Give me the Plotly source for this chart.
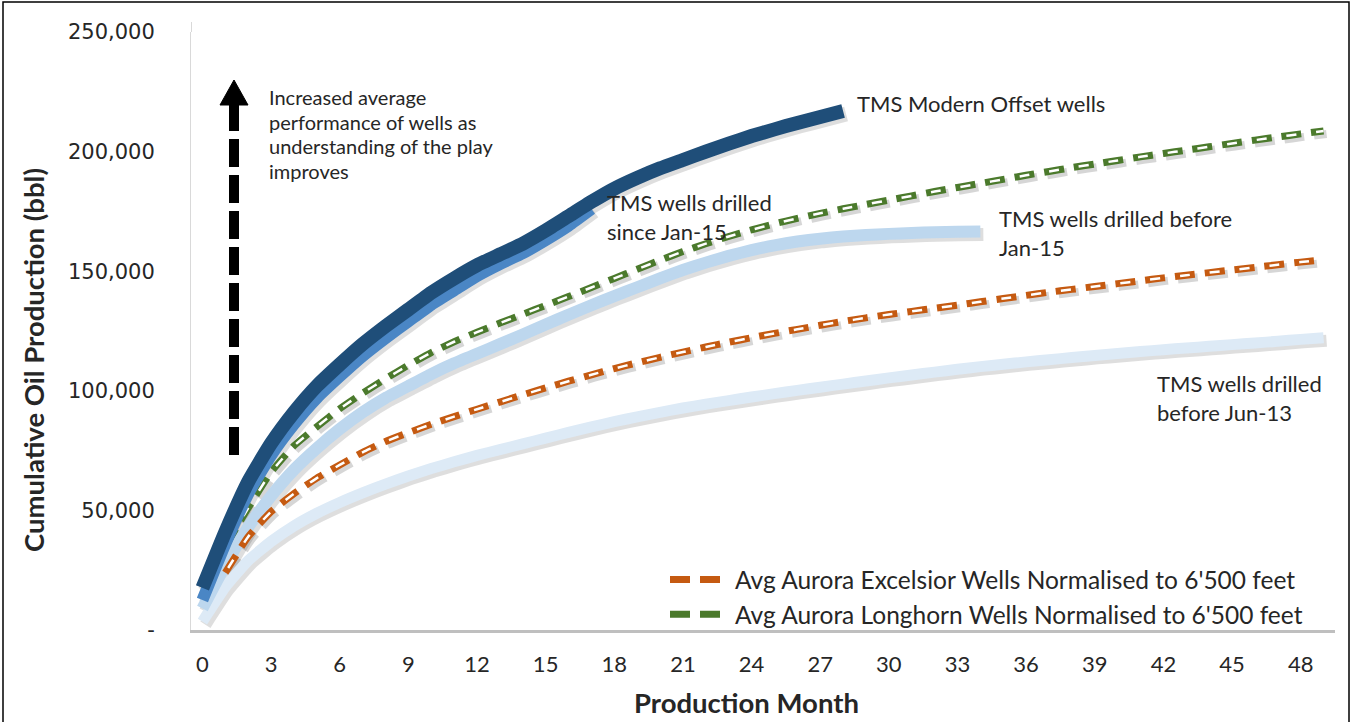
import plotly.graph_objects as go

# ---------------- data ----------------
months = list(range(0, 50))
x_ticks = list(range(0, 49, 3))
y_ticks = [0, 50000, 100000, 150000, 200000, 250000]
y_tick_text = ["-", "50,000", "100,000", "150,000", "200,000", "250,000"]

# TMS Modern Offset wells (months 0..28)
modern_offset = [17600, 41000, 62000, 78000, 91000, 102000, 111000, 119500, 127000, 134000,
                 141000, 147000, 152500, 157000, 161500, 167000, 173000, 179000, 184500, 189000,
                 193000, 196500, 200000, 203300, 206500, 209300, 212000, 214500, 217000]
# TMS wells drilled since Jan-15 (months 0..17)
since_jan15 = [12500, 36000, 57000, 73000, 86000, 97000, 106000, 114500, 122000, 129000,
               136000, 142000, 148000, 153000, 157500, 163000, 169000, 176000]
# TMS wells drilled before Jan-15 (months 0..34)
before_jan15 = [9000, 27000, 43000, 56000, 67000, 76000, 84000, 91000, 97000, 102000,
                107000, 111500, 115500, 119500, 123500, 127700, 131800, 135800, 139600, 143300,
                147000, 150500, 153600, 156400, 158800, 160800, 162400, 163600, 164500, 165100,
                165600, 166000, 166300, 166500, 166600]
# TMS wells drilled before Jun-13 (months 0..49)
before_jun13 = [3500, 18000, 29000, 37000, 43500, 48800, 53300, 57300, 61000, 64400,
                67500, 70300, 73000, 75400, 77800, 80200, 82600, 84900, 87100, 89100,
                91000, 92800, 94400, 95900, 97400, 98800, 100200, 101500, 102800, 104100,
                105400, 106600, 107800, 109000, 110100, 111100, 112100, 113000, 113900, 114800,
                115600, 116400, 117200, 117900, 118600, 119300, 120000, 120700, 121500, 122200]
# Avg Aurora Excelsior (months 1..49)
excelsior = [24000, 39000, 49500, 57000, 63500, 69000, 74300, 78800, 82500, 86000,
             89200, 92300, 95300, 98300, 101200, 104000, 106700, 109300, 111700, 114000,
             116200, 118300, 120300, 122200, 124000, 125700, 127400, 129000, 130500, 131900,
             133200, 134500, 135800, 137200, 138600, 139900, 141200, 142400, 143600, 144800,
             146000, 147200, 148300, 149400, 150500, 151600, 152700, 153800, 154800]
# Avg Aurora Longhorn (months 1..49)
longhorn = [35000, 51000, 66000, 77000, 85000, 92500, 99000, 105000, 110700, 116000,
            120500, 124500, 128300, 132000, 135700, 139400, 143200, 147000, 150800, 154600,
            158200, 161500, 164500, 167300, 169800, 172100, 174200, 176100, 177900, 179700,
            181500, 183300, 185000, 186700, 188400, 190100, 191700, 193300, 194800, 196300,
            197800, 199200, 200600, 202000, 203400, 204800, 206100, 207400, 208600]

# ---------------- geometry / styling ----------------
W, H = 1352, 722
ML, MR, MT, MB = 191, 17, 32, 92
PW, PH = W - ML - MR, H - MT - MB
XR = [-0.5, 49.5]
YR = [0, 250000]
SH = 3  # shadow offset, px
dx = SH * (XR[1] - XR[0]) / PW
dy = SH * (YR[1] - YR[0]) / PH


def px2x(px):
    return XR[0] + (px - ML) / PW * (XR[1] - XR[0])


def py2y(py):
    return YR[0] + (MT + PH - py) / PH * (YR[1] - YR[0])


def fx(px):  # page px -> paper fraction (x)
    return (px - ML) / PW


def fy(py):  # page px -> paper fraction (y)
    return (MT + PH - py) / PH


TXT = "#262626"
FONT = "Lato"
SMOOTH = 0.45

solid_series = [
    ("TMS wells drilled before Jun-13", months[:len(before_jun13)], before_jun13, "#DDEAF6", 11),
    ("TMS wells drilled before Jan-15", months[:len(before_jan15)], before_jan15, "#BDD7EE", 12),
]
dashed_series = [
    ("Avg Aurora Excelsior Wells Normalised to 6'500 feet", months[1:1 + len(excelsior)], excelsior, "#C55A11"),
    ("Avg Aurora Longhorn Wells Normalised to 6'500 feet", months[1:1 + len(longhorn)], longhorn, "#4B7A2C"),
]
top_series = [
    ("TMS wells drilled since Jan-15", months[:len(since_jan15)], since_jan15, "#4A86C5", 12),
    ("TMS Modern Offset wells", months[:len(modern_offset)], modern_offset, "#1F4E79", 14),
]

OUTER_DASH = "20px,10px"
INNER_DASH = "0px,5px,10px,15px"

fig = go.Figure()

# soft shadows, drawn on hidden base axes whose range is shifted a few pixels
for name, xs, ys, col, w in solid_series + top_series:
    fig.add_trace(go.Scatter(x=xs, y=ys, mode="lines", xaxis="x", yaxis="y",
                             line=dict(color="rgba(0,0,0,0.13)", width=w + 1, shape="spline", smoothing=SMOOTH),
                             showlegend=False, hoverinfo="skip"))
for name, xs, ys, col in dashed_series:
    fig.add_trace(go.Scatter(x=xs, y=ys, mode="lines", xaxis="x", yaxis="y",
                             line=dict(color="rgba(0,0,0,0.16)", width=8, dash=OUTER_DASH,
                                       shape="spline", smoothing=SMOOTH),
                             showlegend=False, hoverinfo="skip"))

# main lines
for name, xs, ys, col, w in solid_series:
    fig.add_trace(go.Scatter(x=xs, y=ys, mode="lines", name=name, xaxis="x2", yaxis="y2",
                             line=dict(color=col, width=w, shape="spline", smoothing=SMOOTH),
                             showlegend=False))
for i, (name, xs, ys, col) in enumerate(dashed_series):
    fig.add_trace(go.Scatter(x=xs, y=ys, mode="lines", name=name, xaxis="x2", yaxis="y2",
                             line=dict(color=col, width=7, dash=OUTER_DASH, shape="spline", smoothing=SMOOTH),
                             showlegend=True, legendgroup=f"g{i}"))
    fig.add_trace(go.Scatter(x=xs, y=ys, mode="lines", name=name, xaxis="x2", yaxis="y2",
                             line=dict(color="white", width=2.5, dash=INNER_DASH, shape="spline", smoothing=SMOOTH),
                             showlegend=False, hoverinfo="skip"))
for name, xs, ys, col, w in top_series:
    fig.add_trace(go.Scatter(x=xs, y=ys, mode="lines", name=name, xaxis="x2", yaxis="y2",
                             line=dict(color=col, width=w, shape="spline", smoothing=SMOOTH),
                             showlegend=False))

# ---------------- annotations ----------------
ann = []


def label(lines, px, py_top_line, base_size, glyph_size):
    """Multi-line left-aligned label; first line centred near py_top_line (page px)."""
    text = "<br>".join(f"<span style='font-size:{glyph_size}px'>{t}</span>" for t in lines)
    ann.append(dict(text=text, x=px2x(px), y=py2y(py_top_line - base_size * 0.65 - 1), xref="x2", yref="y2",
                    xanchor="left", yanchor="top", showarrow=False, align="left",
                    font=dict(family=FONT, size=base_size, color=TXT)))


label(["Increased average", "performance of wells as", "understanding of the play", "improves"],
      267, 96, 19, 20)
label(["TMS Modern Offset wells"], 855, 104, 22.5, 22)
label(["TMS wells drilled", "since Jan-15"], 605, 203, 22.5, 22)
label(["TMS wells drilled before", "Jan-15"], 997, 219, 22.5, 22)
label(["TMS wells drilled", "before Jun-13"], 1155, 384, 22.5, 22)

ann.append(dict(text="<b>Production Month</b>", x=fx(746), y=fy(702),
                xref="paper", yref="paper", showarrow=False, xanchor="center", yanchor="middle",
                font=dict(family=FONT, size=27.5, color=TXT)))
ann.append(dict(text="<b>Cumulative Oil Production (bbl)</b>", x=fx(33), y=fy(360),
                xref="paper", yref="paper", showarrow=False, xanchor="center", yanchor="middle",
                textangle=-90, font=dict(family=FONT, size=27.5, color=TXT)))

# ---------------- arrow & frame ----------------
ax_ = px2x(234)
shapes = [
    dict(type="line", xref="x2", yref="y2", x0=ax_, x1=ax_, y0=py2y(103), y1=py2y(456),
         line=dict(color="black", width=10, dash="28px,8px")),
    dict(type="path", xref="x2", yref="y2",
         path=(f"M {px2x(220)} {py2y(105)} L {px2x(248)} {py2y(105)} "
               f"L {px2x(234)} {py2y(80)} Z"),
         fillcolor="black", line=dict(color="black", width=1)),
    # y axis line continues slightly above the top of the range
    dict(type="line", xref="paper", yref="paper", x0=fx(191.5), x1=fx(191.5), y0=1, y1=fy(22),
         line=dict(color="#D9D9D9", width=1)),
    # outer frame: left, top, right
    dict(type="path", xref="paper", yref="paper",
         path=(f"M {fx(3)} {fy(H + 2)} L {fx(3)} {fy(2)} "
               f"L {fx(W - 3)} {fy(2)} L {fx(W - 3)} {fy(H + 2)}"),
         line=dict(color="black", width=1.5)),
]

fig.update_layout(
    width=W, height=H,
    margin=dict(l=ML, r=MR, t=MT, b=MB),
    paper_bgcolor="white", plot_bgcolor="white",
    font=dict(family=FONT, color=TXT),
    xaxis=dict(range=[XR[0] - dx, XR[1] - dx], visible=False, fixedrange=True),
    yaxis=dict(range=[YR[0] + dy, YR[1] + dy], visible=False, fixedrange=True),
    xaxis2=dict(range=XR, overlaying="x", anchor="y2", side="bottom",
                tickvals=x_ticks, ticktext=[str(v) for v in x_ticks],
                showgrid=False, zeroline=False, showline=True, linecolor="#BFBFBF", linewidth=3,
                ticks="", ticklabelstandoff=13, fixedrange=True,
                tickfont=dict(family=FONT, size=22, color=TXT)),
    yaxis2=dict(range=YR, overlaying="y", anchor="x2", side="left",
                tickvals=y_ticks, ticktext=y_tick_text,
                showgrid=False, zeroline=False, showline=True, linecolor="#D9D9D9", linewidth=1,
                ticks="", ticklabelstandoff=31, fixedrange=True,
                tickfont=dict(family="DejaVu Sans", size=21, color=TXT)),
    legend=dict(x=fx(1308), xanchor="right", y=fy(637), yanchor="bottom",
                bgcolor="rgba(0,0,0,0)", font=dict(family=FONT, size=24.5, color=TXT),
                tracegroupgap=0, itemwidth=60),
    annotations=ann,
    shapes=shapes,
)

fig.write_html("out.html", config={"displayModeBar": False},
               post_script="document.body.style.margin='0px';document.body.style.overflow='hidden';")
